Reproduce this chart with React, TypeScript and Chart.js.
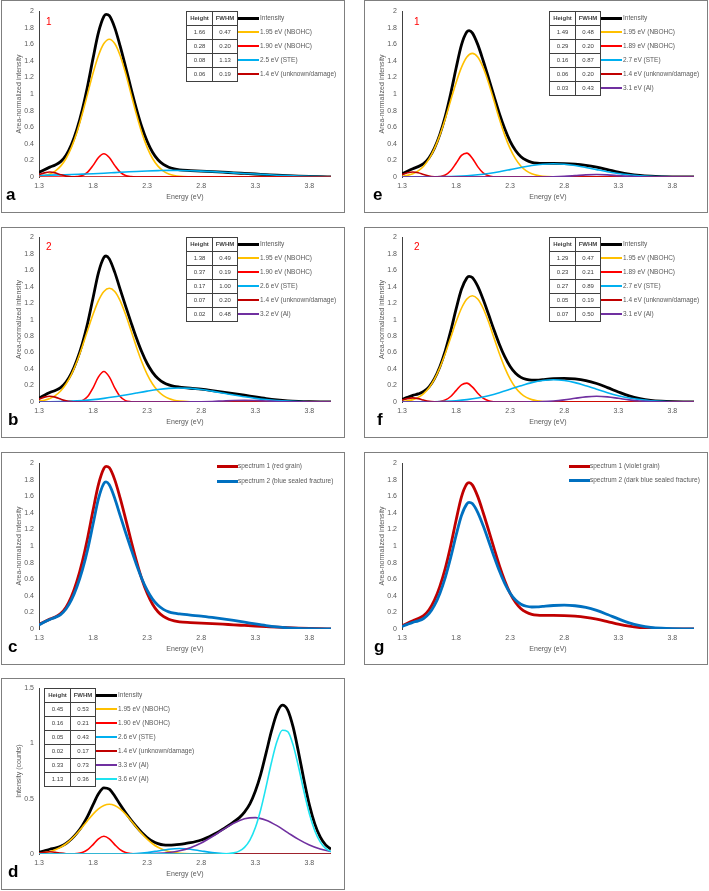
import React, { useEffect, useRef } from "react";
import { Chart, registerables } from "chart.js";

Chart.register(...registerables);

const FONT = "'Liberation Sans', Arial, sans-serif";
const GREY = "#595959";

// ---------- colours ----------
const C_INT = "#000000";
const C_YEL = "#ffc000";
const C_RED = "#ff0000";
const C_STE = "#00b0f0";
const C_DRED = "#c00000";
const C_AL = "#7030a0";
const C_AQ = "#1ee3f0";
const C_S1 = "#c00000";
const C_S2 = "#0070c0";

// ---------- axis ticks ----------
const X_TICKS = [1.3, 1.8, 2.3, 2.8, 3.3, 3.8];

// ---------- energy grids (eV) ----------
const X_T = [1.3, 1.35, 1.4, 1.45, 1.5, 1.55, 1.6, 1.65, 1.7, 1.75, 1.8, 1.85, 1.9, 1.92, 1.95, 2.0, 2.05, 2.1, 2.15, 2.2, 2.25, 2.3, 2.35, 2.4, 2.45, 2.5, 2.55, 2.6, 2.7, 2.8, 2.9, 3.0, 3.1, 3.2, 3.3, 3.4, 3.5, 3.6, 3.7, 3.8, 3.9, 4.0];
const X_Y = [1.3, 1.35, 1.4, 1.45, 1.5, 1.55, 1.6, 1.65, 1.7, 1.75, 1.8, 1.85, 1.9, 1.95, 2.0, 2.05, 2.1, 2.15, 2.2, 2.25, 2.3, 2.35, 2.4, 2.45, 2.5, 2.55, 2.6, 2.7, 2.8, 4.0];
const X_R = [1.3, 1.6, 1.65, 1.7, 1.75, 1.8, 1.85, 1.9, 1.95, 2.0, 2.05, 2.1, 2.15, 2.2, 4.0];
const X_D = [1.3, 1.35, 1.4, 1.45, 1.5, 1.55, 1.6, 1.65, 1.7, 4.0];
const X_S = [1.3, 1.4, 1.5, 1.6, 1.7, 1.8, 1.9, 2.0, 2.1, 2.2, 2.3, 2.4, 2.5, 2.6, 2.7, 2.8, 2.9, 3.0, 3.1, 3.2, 3.3, 3.4, 3.5, 3.6, 3.7, 3.8, 3.9, 4.0];
const X_AQ = [1.3, 2.9, 3.0, 3.05, 3.1, 3.15, 3.2, 3.25, 3.3, 3.35, 3.4, 3.45, 3.5, 3.55, 3.6, 3.65, 3.7, 3.75, 3.8, 3.85, 3.9, 3.95, 4.0];
const X_DT = [1.3, 1.35, 1.4, 1.45, 1.5, 1.55, 1.6, 1.65, 1.7, 1.75, 1.8, 1.85, 1.9, 1.95, 2.0, 2.05, 2.1, 2.15, 2.2, 2.25, 2.3, 2.35, 2.4, 2.45, 2.5, 2.55, 2.6, 2.65, 2.7, 2.75, 2.8, 2.85, 2.9, 2.95, 3.0, 3.05, 3.1, 3.15, 3.2, 3.25, 3.3, 3.35, 3.4, 3.45, 3.5, 3.55, 3.6, 3.65, 3.7, 3.75, 3.8, 3.85, 3.9, 3.95, 4.0];

// ---------- panel a (spectrum 1, red grain) ----------
const A_TOT = [0.054, 0.088, 0.119, 0.146, 0.185, 0.262, 0.39, 0.572, 0.81, 1.1, 1.432, 1.742, 1.934, 1.96, 1.944, 1.8, 1.579, 1.33, 1.072, 0.825, 0.606, 0.43, 0.298, 0.208, 0.151, 0.117, 0.098, 0.087, 0.078, 0.071, 0.065, 0.058, 0.05, 0.043, 0.036, 0.029, 0.022, 0.016, 0.011, 0.007, 0.004, 0.002];
const A_YEL = [0.008, 0.018, 0.037, 0.072, 0.131, 0.223, 0.357, 0.536, 0.758, 1.005, 1.252, 1.464, 1.608, 1.66, 1.608, 1.464, 1.252, 1.005, 0.758, 0.536, 0.357, 0.223, 0.131, 0.072, 0.037, 0.018, 0.008, 0.002, 0, 0];
const A_RED = [0, 0.0005, 0.004, 0.0175, 0.059, 0.14, 0.235, 0.28, 0.235, 0.14, 0.059, 0.0175, 0.004, 0.0005, 0];
const A_CYAN = [0.018, 0.022, 0.026, 0.03, 0.035, 0.04, 0.046, 0.053, 0.06, 0.067, 0.073, 0.077, 0.08, 0.079, 0.076, 0.071, 0.065, 0.058, 0.05, 0.043, 0.036, 0.029, 0.022, 0.016, 0.011, 0.007, 0.004, 0.002];
const A_DRED = [0.028, 0.0495, 0.06, 0.0495, 0.028, 0.0105, 0.0028, 0.0005, 0, 0];
const A_HEIGHT = ["1.66", "0.28", "0.08", "0.06"];
const A_FWHM = ["0.47", "0.20", "1.13", "0.19"];

// ---------- panel b (spectrum 2, blue sealed fracture) ----------
const B_TOT = [0.047, 0.083, 0.115, 0.14, 0.174, 0.241, 0.35, 0.506, 0.706, 0.959, 1.265, 1.571, 1.755, 1.772, 1.737, 1.576, 1.369, 1.166, 0.97, 0.78, 0.609, 0.467, 0.36, 0.285, 0.236, 0.207, 0.19, 0.181, 0.167, 0.155, 0.139, 0.121, 0.103, 0.083, 0.061, 0.041, 0.025, 0.0135, 0.007, 0.0034, 0.0016, 0.0008];
const B_YEL = [0.0105, 0.0216, 0.042, 0.077, 0.133, 0.218, 0.335, 0.488, 0.671, 0.87, 1.064, 1.23, 1.341, 1.38, 1.341, 1.23, 1.064, 0.87, 0.671, 0.488, 0.335, 0.218, 0.133, 0.077, 0.042, 0.0216, 0.0105, 0.002, 0, 0];
const B_RED = [0, 0.0004, 0.003, 0.017, 0.066, 0.172, 0.305, 0.37, 0.305, 0.172, 0.066, 0.017, 0.003, 0.0004, 0];
const B_CYAN = [0.0016, 0.0031, 0.0059, 0.0106, 0.018, 0.0289, 0.0437, 0.0627, 0.085, 0.109, 0.132, 0.152, 0.165, 0.17, 0.165, 0.152, 0.132, 0.109, 0.085, 0.0627, 0.0437, 0.0289, 0.018, 0.0106, 0.0059, 0.0031, 0.0016, 0.0008];
const B_DRED = [0.035, 0.0589, 0.07, 0.0589, 0.035, 0.0147, 0.0044, 0.0009, 0, 0];
const B_PURP = [0, 0, 0, 0, 0, 0, 0, 0, 0, 0, 0, 0, 0, 0.0003, 0.001, 0.0029, 0.0068, 0.0124, 0.0177, 0.02, 0.0177, 0.0124, 0.0068, 0.0029, 0.001, 0.0003, 0, 0];
const B_HEIGHT = ["1.38", "0.37", "0.17", "0.07", "0.02"];
const B_FWHM = ["0.49", "0.19", "1.00", "0.20", "0.48"];

// ---------- panel e (spectrum 1, violet grain) ----------
const E_TOT = [0.039, 0.07, 0.099, 0.125, 0.161, 0.232, 0.348, 0.514, 0.73, 1.002, 1.31, 1.592, 1.749, 1.764, 1.737, 1.598, 1.404, 1.193, 0.977, 0.766, 0.581, 0.43, 0.32, 0.245, 0.201, 0.177, 0.167, 0.164, 0.164, 0.162, 0.155, 0.141, 0.119, 0.09, 0.059, 0.034, 0.018, 0.009, 0.0042, 0.0019, 0.0008, 0.0003];
const E_YEL = [0.0092, 0.0196, 0.039, 0.0736, 0.13, 0.2176, 0.341, 0.5045, 0.702, 0.921, 1.137, 1.321, 1.446, 1.49, 1.446, 1.321, 1.137, 0.921, 0.702, 0.5045, 0.341, 0.2176, 0.13, 0.0736, 0.039, 0.0196, 0.0092, 0.0017, 0.0002, 0];
const E_RED = [0, 0.0009, 0.0053, 0.0238, 0.0745, 0.165, 0.2596, 0.288, 0.226, 0.125, 0.049, 0.0137, 0.0027, 0.0004, 0];
const E_CYAN = [0.0001, 0.0003, 0.0008, 0.0019, 0.0041, 0.0082, 0.0153, 0.0266, 0.0428, 0.064, 0.089, 0.115, 0.138, 0.154, 0.16, 0.154, 0.138, 0.115, 0.089, 0.064, 0.0428, 0.0266, 0.0153, 0.0082, 0.0041, 0.0019, 0.0008, 0.0003];
const E_DRED = [0.03, 0.0505, 0.06, 0.0505, 0.03, 0.0126, 0.0038, 0.0008, 0, 0];
const E_PURP = [0, 0, 0, 0, 0, 0, 0, 0, 0, 0, 0, 0, 0.0001, 0.0007, 0.0027, 0.0078, 0.0165, 0.0258, 0.03, 0.0258, 0.0165, 0.0078, 0.0027, 0.0007, 0.0001, 0, 0, 0];
const E_HEIGHT = ["1.49", "0.29", "0.16", "0.06", "0.03"];
const E_FWHM = ["0.48", "0.20", "0.87", "0.20", "0.43"];

// ---------- panel f (spectrum 2, dark blue sealed fracture) ----------
const F_TOT = [0.03, 0.056, 0.08, 0.098, 0.127, 0.184, 0.284, 0.429, 0.62, 0.859, 1.127, 1.368, 1.507, 1.525, 1.511, 1.406, 1.246, 1.064, 0.877, 0.701, 0.55, 0.431, 0.349, 0.299, 0.274, 0.265, 0.266, 0.272, 0.283, 0.287, 0.28, 0.26, 0.224, 0.175, 0.122, 0.074, 0.041, 0.02, 0.0095, 0.0042, 0.0017, 0.0007];
const F_YEL = [0.0064, 0.0141, 0.0289, 0.056, 0.1015, 0.173, 0.277, 0.417, 0.588, 0.78, 0.973, 1.138, 1.25, 1.29, 1.25, 1.138, 0.973, 0.78, 0.588, 0.417, 0.277, 0.173, 0.1015, 0.056, 0.0289, 0.0141, 0.0064, 0.001, 0, 0];
const F_RED = [0, 0.0012, 0.0062, 0.0238, 0.067, 0.138, 0.208, 0.2286, 0.183, 0.107, 0.046, 0.0144, 0.0033, 0.0006, 0];
const F_CYAN = [0.0003, 0.0007, 0.0017, 0.0039, 0.0082, 0.0158, 0.0288, 0.0485, 0.0766, 0.1125, 0.154, 0.197, 0.235, 0.261, 0.27, 0.261, 0.235, 0.197, 0.154, 0.1125, 0.0766, 0.0485, 0.0288, 0.0158, 0.0082, 0.0039, 0.0017, 0.0007];
const F_DRED = [0.0233, 0.0413, 0.05, 0.0413, 0.0233, 0.0088, 0.0023, 0.0004, 0, 0];
const F_PURP = [0, 0, 0, 0, 0, 0, 0, 0, 0, 0, 0, 0.0003, 0.0013, 0.0044, 0.0119, 0.0258, 0.0449, 0.0627, 0.07, 0.0627, 0.0449, 0.0258, 0.0119, 0.0044, 0.0013, 0.0003, 0, 0];
const F_HEIGHT = ["1.29", "0.23", "0.27", "0.05", "0.07"];
const F_FWHM = ["0.47", "0.21", "0.89", "0.19", "0.50"];

// ---------- panel d (counts) ----------
const D_TOT = [0.015, 0.029, 0.043, 0.054, 0.069, 0.095, 0.135, 0.188, 0.256, 0.342, 0.446, 0.545, 0.599, 0.587, 0.525, 0.447, 0.375, 0.309, 0.249, 0.194, 0.149, 0.115, 0.094, 0.082, 0.08, 0.082, 0.087, 0.094, 0.102, 0.113, 0.127, 0.146, 0.169, 0.195, 0.225, 0.256, 0.29, 0.327, 0.379, 0.453, 0.567, 0.721, 0.915, 1.113, 1.274, 1.346, 1.302, 1.147, 0.919, 0.67, 0.445, 0.273, 0.155, 0.083, 0.044];
const D_YEL = [0.007, 0.0129, 0.0227, 0.0382, 0.061, 0.0928, 0.134, 0.185, 0.243, 0.303, 0.3604, 0.4077, 0.439, 0.45, 0.439, 0.4077, 0.3604, 0.303, 0.243, 0.185, 0.134, 0.0928, 0.061, 0.0382, 0.0227, 0.0129, 0.007, 0.0017, 0.0003, 0];
const D_RED = [0, 0.0006, 0.0031, 0.013, 0.0389, 0.0853, 0.1368, 0.16, 0.1368, 0.0853, 0.0389, 0.013, 0.0031, 0.0006, 0];
const D_CYAN = [0, 0, 0, 0, 0, 0, 0, 0.0002, 0.0012, 0.0045, 0.013, 0.0275, 0.043, 0.05, 0.043, 0.0275, 0.013, 0.0045, 0.0012, 0.0002, 0, 0, 0, 0, 0, 0, 0, 0];
const D_DRED = [0.0077, 0.0157, 0.02, 0.0157, 0.0077, 0.0023, 0.0004, 0, 0, 0];
const D_PURP = [0, 0, 0, 0, 0, 0, 0, 0.0001, 0.0002, 0.0008, 0.0022, 0.0059, 0.0139, 0.0297, 0.0573, 0.0995, 0.1557, 0.2194, 0.2788, 0.319, 0.3293, 0.306, 0.2565, 0.1937, 0.1318, 0.0809, 0.0447, 0.0222];
const D_AQ = [0, 0, 0.0011, 0.0035, 0.01, 0.026, 0.0604, 0.1265, 0.2373, 0.401, 0.609, 0.83, 1.017, 1.12, 1.108, 0.985, 0.787, 0.565, 0.364, 0.211, 0.11, 0.051, 0.0217];
const D_HEIGHT = ["0.45", "0.16", "0.05", "0.02", "0.33", "1.13"];
const D_FWHM = ["0.53", "0.21", "0.43", "0.17", "0.73", "0.36"];

// ---------- layout constants ----------
const W = 342; // panel content width
const PLOT_H = 166;
const BOTTOM_GAP = 35;
const LEGEND_FONT = 6.5;

type Series = { label: string; xs: number[]; ys: number[]; color: string; width: number };
type TableDef = { left: number; top: number; heights: string[]; fwhm: string[] };
type SimpleLegend = { lineLeft: number; tops: number[] };
type PanelDef = {
  left: number; top: number; height: number; letter: string; letterX: number;
  tag?: string; tagX?: number;
  yMax: number; yStep: number; yTitle: string;
  series: Series[];
  table?: TableDef;
  legend?: SimpleLegend;
};

const S = (label: string, xs: number[], ys: number[], color: string, width = 1.6): Series => ({ label, xs, ys, color, width });

const PANELS: PanelDef[] = [
  {
    left: 1, top: 0, height: 213, letter: "a", letterX: 4, tag: "1", tagX: 44,
    yMax: 2, yStep: 0.2, yTitle: "Area-normalized intensity",
    series: [
      S("Intensity", X_T, A_TOT, C_INT, 2.8),
      S("1.95 eV (NBOHC)", X_Y, A_YEL, C_YEL),
      S("1.90 eV (NBOHC)", X_R, A_RED, C_RED),
      S("2.5 eV (STE)", X_S, A_CYAN, C_STE),
      S("1.4 eV (unknown/damage)", X_D, A_DRED, C_DRED),
    ],
    table: { left: 184, top: 10, heights: A_HEIGHT, fwhm: A_FWHM },
  },
  {
    left: 1, top: 227, height: 211, letter: "b", letterX: 6, tag: "2", tagX: 44,
    yMax: 2, yStep: 0.2, yTitle: "Area-normalized intensity",
    series: [
      S("Intensity", X_T, B_TOT, C_INT, 2.8),
      S("1.95 eV (NBOHC)", X_Y, B_YEL, C_YEL),
      S("1.90 eV (NBOHC)", X_R, B_RED, C_RED),
      S("2.6 eV (STE)", X_S, B_CYAN, C_STE),
      S("1.4 eV (unknown/damage)", X_D, B_DRED, C_DRED),
      S("3.2 eV (Al)", X_S, B_PURP, C_AL),
    ],
    table: { left: 184, top: 9, heights: B_HEIGHT, fwhm: B_FWHM },
  },
  {
    left: 1, top: 452, height: 213, letter: "c", letterX: 6,
    yMax: 2, yStep: 0.2, yTitle: "Area-normalized intensity",
    series: [
      S("spectrum 1 (red grain)", X_T, A_TOT, C_S1, 2.8),
      S("spectrum 2 (blue sealed fracture)", X_T, B_TOT, C_S2, 2.8),
    ],
    legend: { lineLeft: 215, tops: [13, 28] },
  },
  {
    left: 1, top: 678, height: 212, letter: "d", letterX: 6,
    yMax: 1.5, yStep: 0.5, yTitle: "Intensity (counts)",
    series: [
      S("Intensity", X_DT, D_TOT, C_INT, 2.8),
      S("1.95 eV (NBOHC)", X_Y, D_YEL, C_YEL),
      S("1.90 eV (NBOHC)", X_R, D_RED, C_RED),
      S("2.6 eV (STE)", X_S, D_CYAN, C_STE),
      S("1.4 eV (unknown/damage)", X_D, D_DRED, C_DRED),
      S("3.3 eV (Al)", X_S, D_PURP, C_AL),
      S("3.6 eV (Al)", X_AQ, D_AQ, C_AQ),
    ],
    table: { left: 42, top: 9, heights: D_HEIGHT, fwhm: D_FWHM },
  },
  {
    left: 364, top: 0, height: 213, letter: "e", letterX: 8, tag: "1", tagX: 49,
    yMax: 2, yStep: 0.2, yTitle: "Area-normalized intensity",
    series: [
      S("Intensity", X_T, E_TOT, C_INT, 2.8),
      S("1.95 eV (NBOHC)", X_Y, E_YEL, C_YEL),
      S("1.89 eV (NBOHC)", X_R, E_RED, C_RED),
      S("2.7 eV (STE)", X_S, E_CYAN, C_STE),
      S("1.4 eV (unknown/damage)", X_D, E_DRED, C_DRED),
      S("3.1 eV (Al)", X_S, E_PURP, C_AL),
    ],
    table: { left: 184, top: 10, heights: E_HEIGHT, fwhm: E_FWHM },
  },
  {
    left: 364, top: 227, height: 211, letter: "f", letterX: 12, tag: "2", tagX: 49,
    yMax: 2, yStep: 0.2, yTitle: "Area-normalized intensity",
    series: [
      S("Intensity", X_T, F_TOT, C_INT, 2.8),
      S("1.95 eV (NBOHC)", X_Y, F_YEL, C_YEL),
      S("1.89 eV (NBOHC)", X_R, F_RED, C_RED),
      S("2.7 eV (STE)", X_S, F_CYAN, C_STE),
      S("1.4 eV (unknown/damage)", X_D, F_DRED, C_DRED),
      S("3.1 eV (Al)", X_S, F_PURP, C_AL),
    ],
    table: { left: 184, top: 9, heights: F_HEIGHT, fwhm: F_FWHM },
  },
  {
    left: 364, top: 452, height: 213, letter: "g", letterX: 9,
    yMax: 2, yStep: 0.2, yTitle: "Area-normalized intensity",
    series: [
      S("spectrum 1 (violet grain)", X_T, E_TOT, C_S1, 2.8),
      S("spectrum 2 (dark blue sealed fracture)", X_T, F_TOT, C_S2, 2.8),
    ],
    legend: { lineLeft: 204, tops: [13, 27] },
  },
];

function ChartCanvas({ def, h }: { def: PanelDef; h: number }) {
  const ref = useRef<HTMLCanvasElement | null>(null);
  useEffect(() => {
    const canvas = ref.current;
    if (!canvas) return;
    const n = def.series.length;
    const tickFont = { size: 7, family: FONT };
    const chart = new Chart(canvas, {
      type: "line",
      data: {
        datasets: def.series.map((s, i) => ({
          label: s.label,
          data: s.xs.map((x, j) => ({ x, y: s.ys[j] })),
          borderColor: s.color,
          backgroundColor: s.color,
          borderWidth: s.width,
          pointRadius: 0,
          pointHoverRadius: 0,
          fill: false,
          cubicInterpolationMode: "monotone",
          borderJoinStyle: "round",
          order: n - i,
        })),
      },
      options: {
        responsive: false,
        maintainAspectRatio: false,
        animation: false,
        events: [],
        layout: { padding: { top: h - BOTTOM_GAP - PLOT_H, right: 13, left: 0, bottom: 0 } },
        plugins: { legend: { display: false }, tooltip: { enabled: false } },
        scales: {
          x: {
            type: "linear",
            min: 1.3,
            max: 4.0,
            afterBuildTicks: (axis: any) => {
              axis.ticks = X_TICKS.map((v) => ({ value: v }));
            },
            afterFit: (axis: any) => {
              axis.height = BOTTOM_GAP;
            },
            grid: { display: false, drawTicks: false },
            border: { display: false },
            ticks: {
              autoSkip: false,
              maxRotation: 0,
              padding: 5,
              color: GREY,
              font: tickFont,
              callback: (v: any) => Number(v).toFixed(1),
            },
            title: {
              display: true,
              text: "Energy (eV)",
              color: GREY,
              font: tickFont,
              padding: { top: 0, bottom: 10.8 },
            },
          },
          y: {
            min: 0,
            max: def.yMax,
            afterFit: (axis: any) => {
              axis.width = 37;
            },
            grid: { display: false, drawTicks: false },
            border: { display: true, color: "#404040", width: 1 },
            ticks: {
              stepSize: def.yStep,
              padding: 5,
              color: GREY,
              font: tickFont,
              callback: (v: any) => String(Math.round(Number(v) * 10) / 10),
            },
            title: {
              display: true,
              text: def.yTitle,
              color: GREY,
              font: tickFont,
              padding: { top: 13, bottom: 0 },
            },
          },
        },
      },
    } as any);
    return () => chart.destroy();
  }, [def, h]);
  return (
    <canvas
      ref={ref}
      width={W}
      height={h}
      style={{ position: "absolute", left: 0, top: 0, width: W, height: h }}
    />
  );
}

function FitTable({ t }: { t: TableDef }) {
  const rows = [["Height", "FWHM"], ...t.heights.map((hv, i) => [hv, t.fwhm[i]])];
  const cells: any[] = [];
  rows.forEach((r, ri) => {
    r.forEach((txt, ci) => {
      cells.push(
        <div
          key={ri + "-" + ci}
          style={{
            position: "absolute",
            left: ci === 0 ? 0 : 26,
            top: ri * 14,
            width: ci === 0 ? 27 : 26,
            height: 15,
            boxSizing: "border-box",
            border: "1px solid #404040",
            fontSize: 6,
            lineHeight: "13px",
            textAlign: "center",
            color: "#404040",
            fontWeight: ri === 0 ? "bold" : "normal",
            background: "#fff",
          }}
        >
          {txt}
        </div>
      );
    });
  });
  return (
    <div style={{ position: "absolute", left: t.left, top: t.top, width: 52, height: rows.length * 14 + 1 }}>
      {cells}
    </div>
  );
}

function Panel({ def }: { def: PanelDef }) {
  const h = def.height - 2;
  const plotTop = h - BOTTOM_GAP - PLOT_H;
  const legendItems: any[] = [];
  if (def.table) {
    const t = def.table;
    def.series.forEach((s, i) => {
      const yc = t.top + 7 + 14 * i;
      const lw = i === 0 ? 3 : 2;
      legendItems.push(
        <div key={"l" + i} style={{ position: "absolute", left: t.left + 52, top: yc - lw / 2, width: 21, height: lw, background: s.color }} />,
        <div key={"t" + i} style={{ position: "absolute", left: t.left + 74, top: yc - 5, height: 10, lineHeight: "10px", fontSize: LEGEND_FONT, color: GREY, whiteSpace: "nowrap" }}>{s.label}</div>
      );
    });
  }
  if (def.legend) {
    const lg = def.legend;
    def.series.forEach((s, i) => {
      const yc = lg.tops[i];
      legendItems.push(
        <div key={"l" + i} style={{ position: "absolute", left: lg.lineLeft, top: yc - 1.5, width: 21, height: 3, background: s.color }} />,
        <div key={"t" + i} style={{ position: "absolute", left: lg.lineLeft + 21, top: yc - 5, height: 10, lineHeight: "10px", fontSize: LEGEND_FONT, color: GREY, whiteSpace: "nowrap" }}>{s.label}</div>
      );
    });
  }
  return (
    <div
      style={{
        position: "absolute",
        left: def.left,
        top: def.top,
        width: 344,
        height: def.height,
        boxSizing: "border-box",
        border: "1px solid #7f7f7f",
        background: "#fff",
      }}
    >
      <div style={{ position: "absolute", left: 0, top: 0, width: W, height: h, overflow: "hidden" }}>
        <ChartCanvas def={def} h={h} />
        {def.table ? <FitTable t={def.table} /> : null}
        {legendItems}
        {def.tag ? (
          <div style={{ position: "absolute", left: def.tagX, top: plotTop + 5, fontSize: 10, lineHeight: "12px", color: "#ff0000" }}>{def.tag}</div>
        ) : null}
        <div style={{ position: "absolute", left: def.letterX, top: h - 26, fontSize: 17, lineHeight: "17px", fontWeight: "bold", color: "#000" }}>{def.letter}</div>
      </div>
    </div>
  );
}

export default function App() {
  return (
    <div
      style={{
        position: "absolute",
        left: 0,
        top: 0,
        width: 709,
        height: 891,
        background: "#fff",
        fontFamily: FONT,
        overflow: "hidden",
      }}
    >
      {PANELS.map((p, i) => (
        <Panel key={i} def={p} />
      ))}
    </div>
  );
}
